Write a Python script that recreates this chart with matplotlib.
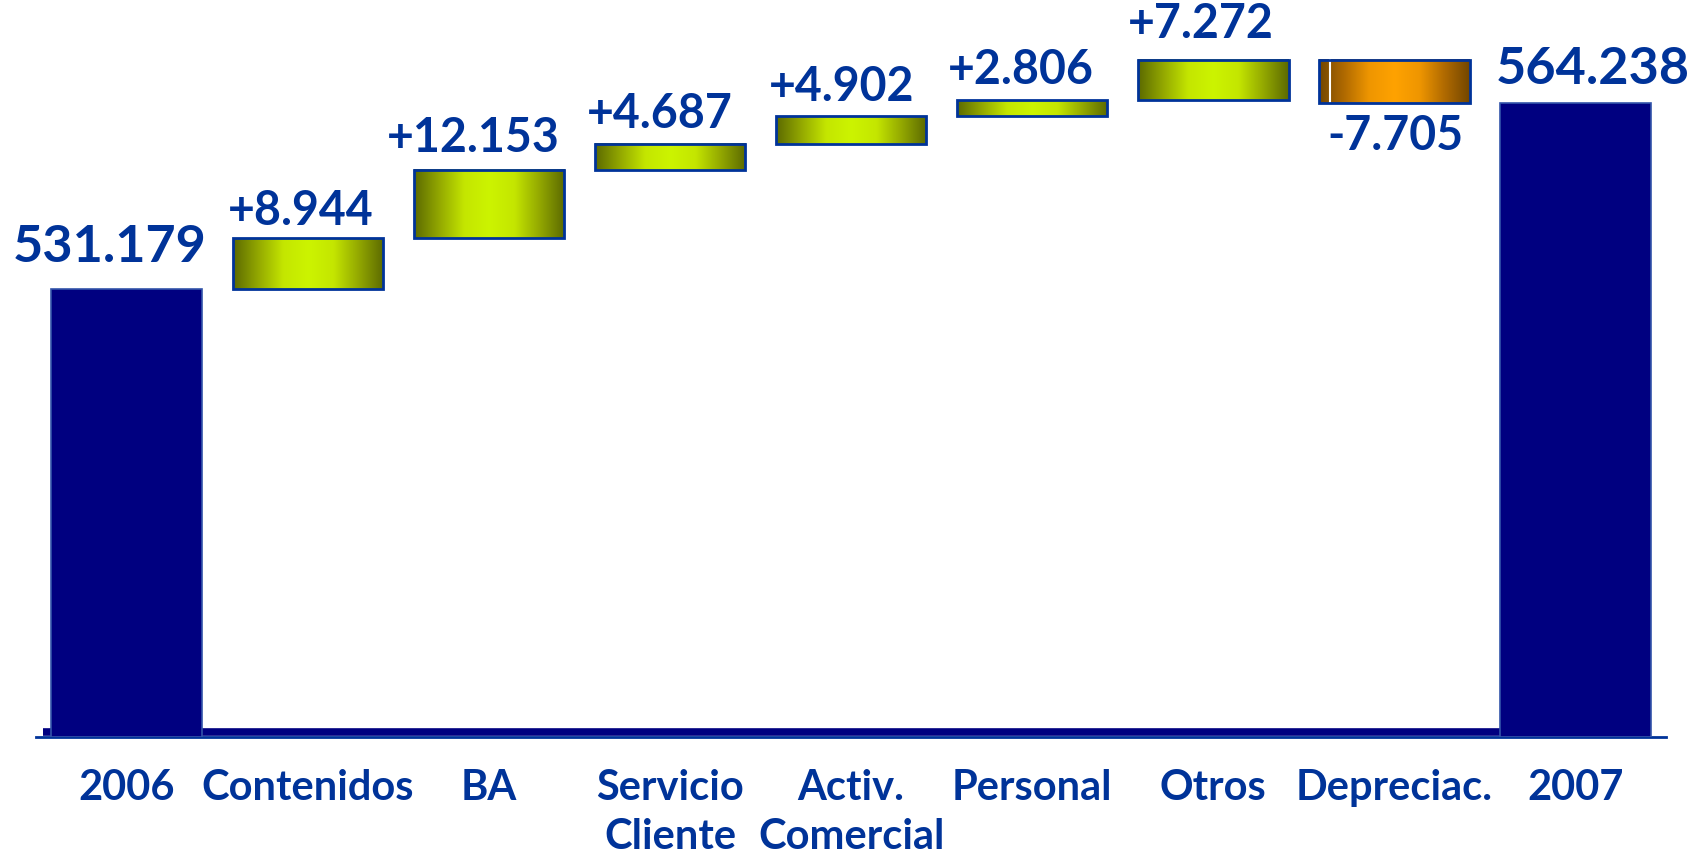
import numpy as np
import matplotlib
matplotlib.use("Agg")
import matplotlib.pyplot as plt
from matplotlib.colors import LinearSegmentedColormap
from matplotlib.patches import Rectangle

plt.rcParams['font.family'] = ['Lato', 'DejaVu Sans']
plt.rcParams['font.weight'] = 'bold'

categories = ["2006", "Contenidos", "BA", "Servicio\nCliente", "Activ.\nComercial",
              "Personal", "Otros", "Depreciac.", "2007"]
start_total = 531.179
changes = [8.944, 12.153, 4.687, 4.902, 2.806, 7.272, -7.705]
end_total = 564.238
change_labels = ["+8.944", "+12.153", "+4.687", "+4.902", "+2.806", "+7.272", "-7.705"]
total_labels = ["531.179", "564.238"]

# label placement (points), tuned by eye
change_offsets = [(-5, 9.4), (-11, 13.3), (-7, 11), (-7, 11), (-8, 11.7), (-9, 15.7), (1, -34)]
total_offsets = [(-12, 19.5), (12, 13.3)]

y_base = 451.4
text_col = "#003399"
navy = "#000080"

green_cmap = LinearSegmentedColormap.from_list(
    "g", ["#5c6a00", "#93a800", "#c4e600", "#ccf400", "#c4e600", "#93a800", "#5c6a00"])
orange_cmap = LinearSegmentedColormap.from_list(
    "o", ["#724600", "#b06a00", "#ef9600", "#ffa200", "#ef9600", "#b06a00", "#724600"])

fig = plt.figure(figsize=(17.07, 8.64), dpi=100)
ax = fig.add_axes([0.0211, 0.147, 0.955, 0.804])

w = 0.83
x = np.arange(len(categories))

# totals
for j, (i, val) in enumerate([(0, start_total), (8, end_total)]):
    ax.bar(x[i], val - y_base, bottom=y_base, width=w, color=navy,
           edgecolor="#3355aa", linewidth=1.2, zorder=3)
    ax.annotate(total_labels[j], (x[i], val), xytext=total_offsets[j], textcoords="offset points",
                ha="center", va="baseline", fontsize=37.5, color=text_col,
                fontweight="bold", annotation_clip=False)

# increments
grad = np.linspace(0, 1, 256).reshape(1, -1)
level = start_total
for k, d in enumerate(changes):
    i = k + 1
    lo, hi = min(level, level + d), max(level, level + d)
    cmap = green_cmap if d > 0 else orange_cmap
    ax.imshow(grad, cmap=cmap, extent=(x[i] - w / 2, x[i] + w / 2, lo, hi),
              aspect="auto", zorder=2, interpolation="bilinear")
    if d < 0:
        ax.plot([x[i] - w / 2 + 0.06] * 2, [lo, hi], color="white", lw=1.5, zorder=3)
    ax.add_patch(Rectangle((x[i] - w / 2, lo), w, hi - lo, fill=False,
                           edgecolor=text_col, linewidth=2, zorder=4))
    ax.annotate(change_labels[k], (x[i], hi if d > 0 else lo), xytext=change_offsets[k],
                textcoords="offset points", ha="center", va="baseline", fontsize=33.5,
                color=text_col, fontweight="bold", annotation_clip=False)
    level += d

# base strip along the bottom
ax.plot([-0.46, 8.36], [y_base + 0.95, y_base + 0.95], color=navy, linewidth=5.5,
        solid_capstyle="butt", zorder=2)

ax.set_xlim(-0.5, 8.5)
ax.set_ylim(y_base, 575)
for s in ["top", "right", "left"]:
    ax.spines[s].set_visible(False)
ax.spines["bottom"].set_color(text_col)
ax.spines["bottom"].set_linewidth(2)
ax.set_yticks([])
ax.set_xticks(x)
ax.set_xticklabels(categories, fontsize=30, color=text_col, fontweight="bold",
                   linespacing=1.36)
ax.tick_params(axis="x", length=0, pad=23)

fig.savefig("out.png", dpi=100)
